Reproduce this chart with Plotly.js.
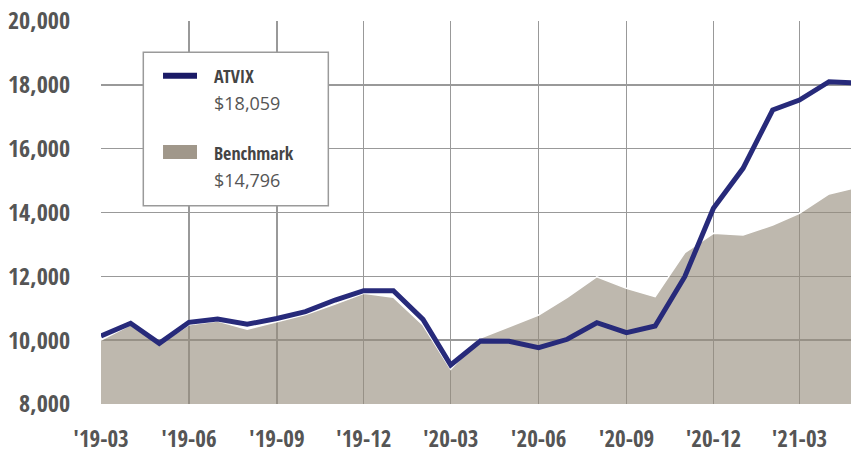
<!DOCTYPE html>
<html>
<head>
<meta charset="utf-8">
<script src="https://cdn.plot.ly/plotly-3.0.1.min.js"></script>
<style>html,body{margin:0;padding:0;background:#fff;}#chart{width:851px;height:451px;}</style>
</head>
<body>
<div id="chart"></div>
<script>
var months = ['2019-03-01','2019-04-01','2019-05-01','2019-06-01','2019-07-01','2019-08-01','2019-09-01','2019-10-01','2019-11-01','2019-12-01',
  '2020-01-01','2020-02-01','2020-03-01','2020-04-01','2020-05-01','2020-06-01','2020-07-01','2020-08-01','2020-09-01','2020-10-01','2020-11-01','2020-12-01',
  '2021-01-01','2021-02-01','2021-03-01','2021-04-01','2021-05-01'];
var atvix = [10130,10528,9900,10560,10663,10497,10680,10892,11258,11550,
  11550,10653,9222,9973,9965,9765,10027,10547,10234,10443,11988,14131,
  15384,17211,17524,18098,18059];
var benchmark = [10000,10480,9880,10480,10600,10340,10580,10800,11130,11468,
  11343,10475,9087,10067,10422,10789,11343,11988,11624,11363,12740,13347,
  13295,13608,13974,14580,14796];
var seriesNames = ['ATVIX','Benchmark'];

var condensed = '"Open Sans Condensed", "Roboto Condensed", sans-serif';
var regular = '"Open Sans", "Noto Sans", sans-serif';
function money(v){ return '$' + v.toLocaleString('en-US'); }

var traces = [
  {x: months, y: benchmark, type: 'scatter', mode: 'lines', fill: 'tozeroy',
   fillcolor: 'rgba(150,140,125,0.62)', line: {color: '#ffffff', width: 1.5}, hoverinfo: 'skip', name: seriesNames[1]},
  {x: months, y: atvix, type: 'scatter', mode: 'lines',
   line: {color: '#272a7a', width: 5}, hoverinfo: 'skip', name: seriesNames[0]}
];

var legendX0 = 0.0564, legendX1 = 0.3031;
var layout = {
  width: 851, height: 451,
  margin: {l: 101, r: 0, t: 21, b: 47, pad: 0},
  paper_bgcolor: '#ffffff', plot_bgcolor: '#ffffff',
  showlegend: false,
  xaxis: {
    type: 'date', range: ['2019-03-01', '2021-04-24'],
    tick0: '2019-03-01', dtick: 'M3', tickformat: "'%y-%m",
    showgrid: true, gridcolor: '#999999', gridwidth: 1.5,
    zeroline: false, showline: false, ticks: '',
    ticklabelstandoff: 19,
    tickfont: {family: condensed, size: 23, color: '#555555', weight: 'bold'}
  },
  yaxis: {
    range: [8000, 20000], dtick: 2000, tick0: 8000, tickformat: ',d',
    showgrid: true, gridcolor: '#999999', gridwidth: 1.5,
    zeroline: false, showline: false, ticks: '',
    ticklabelstandoff: 30,
    tickfont: {family: condensed, size: 24, color: '#555555', weight: 'bold'}
  },
  shapes: [
    {type: 'rect', xref: 'paper', yref: 'paper', x0: legendX0, x1: legendX1, y0: 0.5178, y1: 0.9183,
     fillcolor: '#ffffff', line: {color: '#9a9a9a', width: 1.5}, layer: 'above'},
    {type: 'line', xref: 'paper', yref: 'paper', x0: 0.0827, x1: 0.1280, y0: 0.8572, y1: 0.8572,
     line: {color: '#1a1a66', width: 6}, layer: 'above'},
    {type: 'rect', xref: 'paper', yref: 'paper', x0: 0.0827, x1: 0.1280, y0: 0.6397, y1: 0.6762,
     fillcolor: '#a0978a', line: {width: 0}, layer: 'above'}
  ],
  annotations: [
    {xref: 'paper', yref: 'paper', x: 0.1476, y: 0.8556, xanchor: 'left', yanchor: 'middle', showarrow: false,
     text: '<b>' + seriesNames[0] + '</b>', font: {family: condensed, size: 18, color: '#444444'}},
    {xref: 'paper', yref: 'paper', x: 0.1476, y: 0.7859, xanchor: 'left', yanchor: 'middle', showarrow: false,
     text: money(atvix[atvix.length-1]), font: {family: regular, size: 18, color: '#555555'}},
    {xref: 'paper', yref: 'paper', x: 0.1476, y: 0.6561, xanchor: 'left', yanchor: 'middle', showarrow: false,
     text: '<b>' + seriesNames[1] + '</b>', font: {family: condensed, size: 18, color: '#444444'}},
    {xref: 'paper', yref: 'paper', x: 0.1476, y: 0.5849, xanchor: 'left', yanchor: 'middle', showarrow: false,
     text: money(benchmark[benchmark.length-1]), font: {family: regular, size: 18, color: '#555555'}}
  ]
};

Plotly.newPlot('chart', traces, layout, {displayModeBar: false, staticPlot: true});
</script>
</body>
</html>
